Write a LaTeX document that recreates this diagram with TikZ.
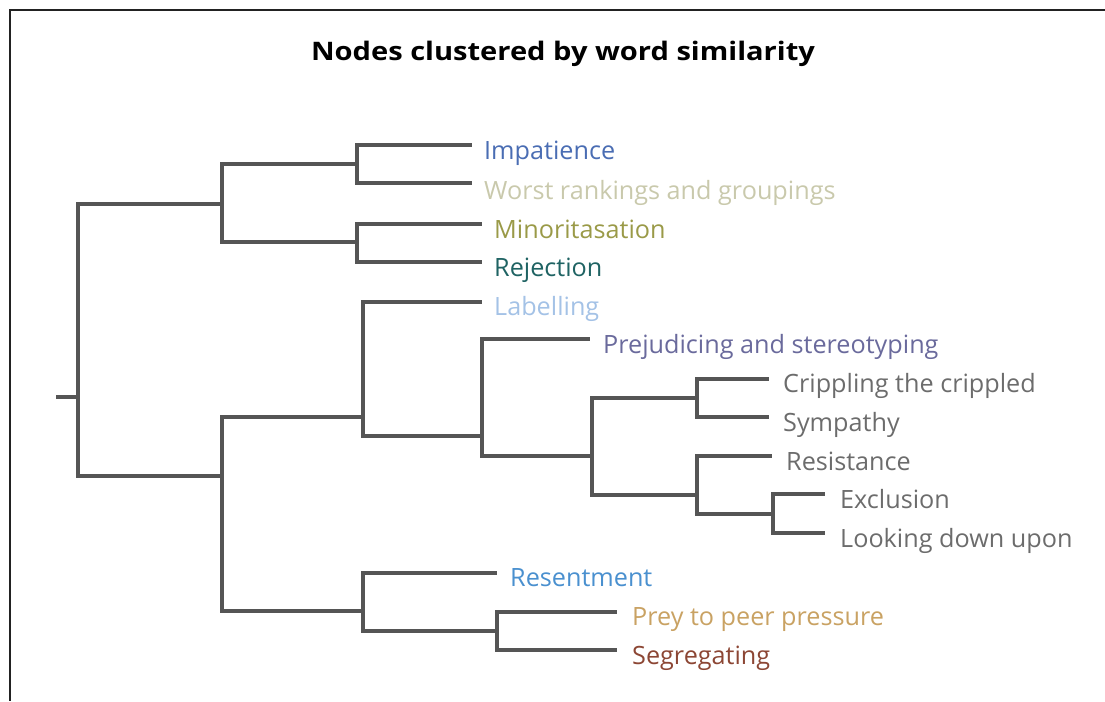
\documentclass[tikz,border=0pt]{standalone}
\usepackage{fontspec}
\setmainfont{Open Sans}
\definecolor{linkgray}{HTML}{555555}
\definecolor{framegray}{HTML}{222222}
\definecolor{cImp}{HTML}{4A6DB3}
\definecolor{cWorst}{HTML}{C9C9AC}
\definecolor{cMin}{HTML}{9A9A48}
\definecolor{cRej}{HTML}{1F6363}
\definecolor{cLab}{HTML}{A4C2E6}
\definecolor{cPrej}{HTML}{6A6A9C}
\definecolor{cGrey}{HTML}{6C6C6C}
\definecolor{cResent}{HTML}{4A90CF}
\definecolor{cPrey}{HTML}{C9A263}
\definecolor{cSeg}{HTML}{8C4634}
\begin{document}
\begin{tikzpicture}[x=1pt,y=-1pt,
  link/.style={draw=linkgray, line width=3.1pt, line join=miter},
  lbl/.style={anchor=base west, inner sep=0pt, font=\fontsize{25.2}{29}\selectfont},
  frameline/.style={draw=framegray, line width=2.2pt}]
\useasboundingbox (0,0) rectangle (1105,701);

% frame (top and left edges)
\coordinate (fTR) at (1105,10);
\coordinate (fTL) at (10,10);
\coordinate (fBL) at (10,701);
\draw[frameline] (fTR) -- (fTL) -- (fBL);

% title
\node[anchor=base, inner sep=0pt, font=\fontsize{25.5}{30}\selectfont\bfseries] (title) at (563,60) {\scalebox{1.14}[1]{Nodes clustered by word similarity}};

% junctions
\coordinate (stub) at (56,397);
\coordinate (r0) at (78,397);
\coordinate (A) at (222,204);
\coordinate (A1) at (357,164);
\coordinate (A2) at (357,242);
\coordinate (B) at (222,476);
\coordinate (B1) at (363,417);
\coordinate (B1b) at (482,436);
\coordinate (C) at (592,456);
\coordinate (C1) at (697,398);
\coordinate (C2) at (697,495);
\coordinate (C3) at (773,514);
\coordinate (B2) at (363,611);
\coordinate (B2b) at (497,631);

% leaf ends
\coordinate (eImp) at (472,145);
\coordinate (eWorst) at (472,183);
\coordinate (eMin) at (482,224);
\coordinate (eRej) at (482,262);
\coordinate (eLab) at (482,302);
\coordinate (ePrej) at (590,339);
\coordinate (eCrip) at (769,379);
\coordinate (eSymp) at (769,417);
\coordinate (eRes) at (772,456);
\coordinate (eExc) at (825,494);
\coordinate (eLook) at (825,533);
\coordinate (eResent) at (497,573);
\coordinate (ePrey) at (617,612);
\coordinate (eSeg) at (617,650);

% tree links
\draw[link] (stub) -- (r0);
\draw[link] (r0) |- (A);
\draw[link] (r0) |- (B);
\draw[link] (A) |- (A1);
\draw[link] (A) |- (A2);
\draw[link] (A1) |- (eImp);
\draw[link] (A1) |- (eWorst);
\draw[link] (A2) |- (eMin);
\draw[link] (A2) |- (eRej);
\draw[link] (B) |- (B1);
\draw[link] (B) |- (B2);
\draw[link] (B1) |- (eLab);
\draw[link] (B1) |- (B1b);
\draw[link] (B1b) |- (ePrej);
\draw[link] (B1b) |- (C);
\draw[link] (C) |- (C1);
\draw[link] (C) |- (C2);
\draw[link] (C1) |- (eCrip);
\draw[link] (C1) |- (eSymp);
\draw[link] (C2) |- (eRes);
\draw[link] (C2) |- (C3);
\draw[link] (C3) |- (eExc);
\draw[link] (C3) |- (eLook);
\draw[link] (B2) |- (eResent);
\draw[link] (B2) |- (B2b);
\draw[link] (B2b) |- (ePrey);
\draw[link] (B2b) |- (eSeg);

% leaf labels
\node[lbl, text=cImp] (tImp) at (484,159) {Impatience};
\node[lbl, text=cWorst] (tWorst) at (484,199) {Worst rankings and groupings};
\node[lbl, text=cMin] (tMin) at (494,238) {Minoritasation};
\node[lbl, text=cRej] (tRej) at (494,276) {Rejection};
\node[lbl, text=cLab] (tLab) at (494,315) {Labelling};
\node[lbl, text=cPrej] (tPrej) at (603,353) {Prejudicing and stereotyping};
\node[lbl, text=cGrey] (tCrip) at (783,392) {Crippling the crippled};
\node[lbl, text=cGrey] (tSymp) at (783,431) {Sympathy};
\node[lbl, text=cGrey] (tRes) at (786,470) {Resistance};
\node[lbl, text=cGrey] (tExc) at (840,508) {Exclusion};
\node[lbl, text=cGrey] (tLook) at (840,547) {Looking down upon};
\node[lbl, text=cResent] (tResent) at (510,586) {Resentment};
\node[lbl, text=cPrey] (tPrey) at (632,625) {Prey to peer pressure};
\node[lbl, text=cSeg] (tSeg) at (632,664) {Segregating};
\end{tikzpicture}
\end{document}
